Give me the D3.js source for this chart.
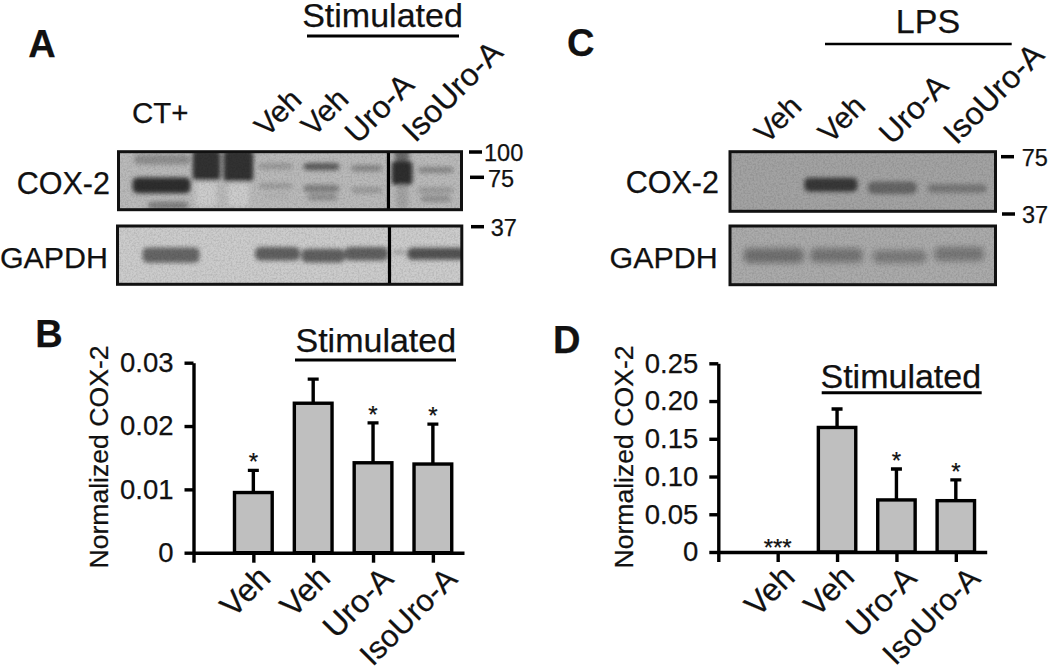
<!DOCTYPE html>
<html><head><meta charset="utf-8">
<script src="https://cdnjs.cloudflare.com/ajax/libs/d3/7.8.5/d3.min.js"></script>
<style>
html,body{margin:0;padding:0;background:#fff}
svg{display:block}
text{font-family:"Liberation Sans",Arial,sans-serif;fill:#111;stroke:#111;stroke-width:.25px}
</style></head><body>
<svg id="fig" width="1050" height="667"></svg>
<script>
// ---------- Bar chart data ----------
const groups = ["Veh","Veh","Uro-A","IsoUro-A"];
const bMeans = [0.0095,0.0236,0.0142,0.0140];
const bErrTop = [0.0130,0.0274,0.0205,0.0203];
const bStars = ["*","","*","*"];
const bTicks = [0,0.01,0.02,0.03];
const bTickLabels = ["0","0.01","0.02","0.03"];
const dMeans = [0,0.165,0.069,0.068];
const dErrTop = [0,0.1895,0.110,0.0955];
const dStars = ["***","","*","*"];
const dTicks = [0,0.05,0.10,0.15,0.20,0.25];
const dTickLabels = ["0","0.05","0.10","0.15","0.20","0.25"];
const yTitle = "Normalized COX-2";

// ---------- Blot densities: [gel % left, gel % right, gel % top, gel % bottom, density] ----------
const aCoxBackground = 0.27;
const aCoxBands = [
  [4.5,21,5,22,0.44],[8.5,20.5,86,100,0.5],[4.1,21,44.5,71.5,0.82],
  [22.5,28.5,48,95,0.2],[32,38,48,95,0.2],
  [21.6,29.7,-3,50,0.8],[30.6,39.3,-3,52,0.8],
  [40.7,50.9,19.5,30.5,0.4],[40.7,50.9,54.5,64,0.4],[42,50,72,80,0.31],
  [53.8,64.5,19.5,32,0.64],[53.8,64.5,57,70,0.5],[55,64,73,84,0.44],
  [67.7,77,23,34,0.47],[67.7,77,61,71.5,0.4],
  [80.5,84.8,-5,16,0.58],[79.6,85.7,15,58,0.82],[81,84.5,57,100,0.36],
  [87.1,97.8,26.5,36.5,0.48],[87.1,97.8,61.5,71.5,0.4],[88,97,76,86.5,0.44]
];
const aGapdhBackground = 0.2;
const aGapdhBands = [
  [7.3,23.8,37,63,0.6],[40,53,36,59,0.62],[53.5,66,39,62.5,0.62],[66,78.6,36,59,0.62],
  [79.9,84,41,49,0.36],[84.2,101,37.5,58,0.68]
];
const cCoxBackground = 0.36;
const cCoxBands = [[28,48,43.5,67,0.78],[52,70.3,50,71,0.6],[74.4,96.8,54,69,0.53]];
const cGapdhBackground = 0.33;
const cGapdhBands = [[5.2,27.7,38,63,0.56],[30.3,50,38,62,0.54],[53.8,74,41.5,63,0.52],[77,95.7,35.5,60,0.53]];

const aLaneLabels = ["Veh","Veh","Uro-A","IsoUro-A"];
const cLaneLabels = ["Veh","Veh","Uro-A","IsoUro-A"];

const svg = d3.select("#fig");
const defs = svg.append("defs");
[["blur",2.1],["blurWide",3.2]].forEach(([id,sd])=>
  defs.append("filter").attr("id",id).attr("x","-30%").attr("y","-60%").attr("width","160%").attr("height","220%")
    .append("feGaussianBlur").attr("stdDeviation",sd));
const nf = defs.append("filter").attr("id","grain").attr("x","0").attr("y","0").attr("width","100%").attr("height","100%");
nf.append("feTurbulence").attr("type","fractalNoise").attr("baseFrequency",0.55).attr("numOctaves",2).attr("seed",4);
nf.append("feColorMatrix").attr("type","matrix").attr("values","0 0 0 0 0  0 0 0 0 0  0 0 0 0 0  2.4 0 0 0 -0.9");
const gray = d3.scaleLinear().domain([0,1]).range(["#ffffff","#000000"]);
const T = (x,y,s,o={})=>{
  const t = svg.append("text").attr("x",x).attr("y",y).text(s).style("font-size",(o.size||30)+"px")
    .attr("text-anchor",o.anchor||"start").style("font-weight",o.bold?"700":"400");
  if(o.rot!==undefined){t.attr("dy",".35em").attr("transform",`rotate(${o.rot} ${x} ${y})`);}
  return t;
};
const L = (x1,y1,x2,y2,w=2.6)=>svg.append("line").attr("x1",x1).attr("y1",y1).attr("x2",x2).attr("y2",y2).attr("stroke","#000").attr("stroke-width",w);

let clipN=0;
function blot(x0,x1,y0,y1,bg,bands,sep,blurId="blur"){
  const gx=d3.scaleLinear().domain([0,100]).range([x0,x1]);
  const gy=d3.scaleLinear().domain([0,100]).range([y0,y1]);
  const id="c"+(clipN++);
  defs.append("clipPath").attr("id",id).append("rect").attr("x",x0).attr("y",y0).attr("width",x1-x0).attr("height",y1-y0);
  const g=svg.append("g").attr("clip-path",`url(#${id})`);
  g.append("rect").attr("x",x0).attr("y",y0).attr("width",x1-x0).attr("height",y1-y0).attr("fill",gray(bg));
  g.append("g").attr("filter",`url(#${blurId})`).selectAll("rect").data(bands).join("rect")
    .attr("x",d=>gx(d[0])).attr("width",d=>gx(d[1])-gx(d[0]))
    .attr("y",d=>gy(d[2])).attr("height",d=>gy(d[3])-gy(d[2]))
    .attr("rx",6).attr("ry",4).attr("fill",d=>gray(d[4]));
  g.append("rect").attr("x",x0).attr("y",y0).attr("width",x1-x0).attr("height",y1-y0)
    .attr("filter","url(#grain)").attr("opacity",0.1);
  if(sep!==undefined) L(gx(sep),y0,gx(sep),y1,3.2);
  svg.append("rect").attr("x",x0).attr("y",y0).attr("width",x1-x0).attr("height",y1-y0)
    .attr("fill","none").attr("stroke","#111").attr("stroke-width",3);
}

function barChart(o){
  const x=d3.scaleLinear().domain([0,4.52]).range([o.left,o.right]);
  const y=d3.scaleLinear().domain([0,o.max]).range([o.bottom,o.top]);
  const gg=svg.append("g");
  const cx=i=>x(i+1), bw=x(0.63)-x(0);
  gg.selectAll(".eb").data(o.errTop).join("path").attr("fill","none").attr("stroke","#000").attr("stroke-width",3.4)
    .attr("d",(d,i)=>o.means[i]===0?null:`M${cx(i)},${y(o.means[i])}V${y(d)}M${cx(i)-5.5},${y(d)}H${cx(i)+5.5}`);
  gg.selectAll(".bar").data(o.means.filter(v=>v>0).map(v=>({v,i:o.means.indexOf(v)}))).join("rect")
    .attr("x",d=>cx(d.i)-bw/2).attr("width",bw).attr("y",d=>y(d.v)).attr("height",d=>y(0)-y(d.v))
    .attr("fill","#bfbfbf").attr("stroke","#000").attr("stroke-width",3.4);
  const ya=d3.axisLeft(y).tickValues(o.ticks).tickFormat((d,i)=>o.tickLabels[i]).tickSize(9).tickPadding(11).tickSizeOuter(0);
  const yg=svg.append("g").attr("transform",`translate(${o.left},0)`).call(ya);
  const xa=d3.axisBottom(x).tickValues([0,1,2,3,4]).tickFormat("").tickSize(10).tickSizeOuter(0);
  const xg=svg.append("g").attr("transform",`translate(0,${o.bottom})`).call(xa);
  [yg,xg].forEach(g=>{g.selectAll("path,line").attr("stroke","#000").attr("stroke-width",3.4);
    g.selectAll("text").style("font-size","27.5px").style("font-family",'"Liberation Sans",Arial,sans-serif').attr("fill","#111");});
  o.stars.forEach((s,i)=>{ if(s) T(cx(i),y(o.errTop[i])+(o.errTop[i]===0?3.5:0),s,{size:24,anchor:"middle"}); });
  const labelDx=[19,19,22,26], labelDy=[27,27,28,28], labelSize=[32,32,32,31];
  o.cats.forEach((c,i)=>{
    svg.append("text").attr("text-anchor","end").style("font-size",labelSize[i]+"px")
      .attr("transform",`translate(${cx(i)+labelDx[i]},${o.bottom+labelDy[i]}) rotate(-45)`).text(c);
  });
  svg.append("text").attr("text-anchor","middle").style("font-size","26.6px").attr("fill","#222")
    .attr("transform",`translate(${o.titleX},457) rotate(-90)`).text(yTitle);
}

// ---------- Panel A ----------
T(42,57,"A",{size:38,bold:true,anchor:"middle"});
T(382.5,27,"Stimulated",{size:34,anchor:"middle"});
L(307,36,459,36,2.8);
T(132,123,"CT+",{size:29.5});
[277.7,324.5,379,452].forEach((x,i)=>T(x,[112.4,111.7,108,91][i],aLaneLabels[i],{size:[30,30,31.5,32][i],anchor:"middle",rot:-45}));
T(110,194,"COX-2",{size:30.5,anchor:"end"});
T(108,268,"GAPDH",{size:30.4,anchor:"end"});
blot(118.5,461.5,151.7,209.7,aCoxBackground,aCoxBands,78.7);
blot(117.5,461.8,226,284.3,aGapdhBackground,aGapdhBands,79);
L(469,152,482,152,3.5);T(484,161,"100",{size:23.5});
L(470,177.3,484,177.3,3.5);T(488,186.7,"75",{size:23.5});
L(471,226.7,484,226.7,3.5);T(490.7,236,"37",{size:23.5});

// ---------- Panel C ----------
T(580.7,56,"C",{size:38,bold:true,anchor:"middle"});
T(928,32.7,"LPS",{size:34,anchor:"middle"});
L(825,44,1011.7,44,2.4);
[777.5,841.3,913.3,993.3].forEach((x,i)=>T(x,[119,118.7,109,93.3][i],cLaneLabels[i],{size:[30,30,31.5,32][i],anchor:"middle",rot:-45}));
T(719,193.3,"COX-2",{size:30.5,anchor:"end"});
T(717.7,267.7,"GAPDH",{size:30.4,anchor:"end"});
blot(730,995.5,151.7,211.3,cCoxBackground,cCoxBands);
blot(730,995.5,226,284.7,cGapdhBackground,cGapdhBands,undefined,"blurWide");
L(1001,156.7,1014,156.7,3.5);T(1021.7,166,"75",{size:23.5});
L(1002,214,1015,214,3.5);T(1022,222.7,"37",{size:23.5});

// ---------- Panel B ----------
T(49,347,"B",{size:38,bold:true,anchor:"middle"});
T(375.8,351.7,"Stimulated",{size:34,anchor:"middle"});
L(295,360,456,360,3);
barChart({left:193.5,right:464,top:362.7,bottom:552.7,max:0.03,means:bMeans,errTop:bErrTop,stars:bStars,
  ticks:bTicks,tickLabels:bTickLabels,cats:groups,titleX:108});

// ---------- Panel D ----------
T(566.7,353.3,"D",{size:38,bold:true,anchor:"middle"});
T(900.8,388.3,"Stimulated",{size:34,anchor:"middle"});
L(821.7,392.7,981.7,392.7,3);
barChart({left:718.3,right:986.7,top:363.3,bottom:552,max:0.25,means:dMeans,errTop:dErrTop,stars:dStars,
  ticks:dTicks,tickLabels:dTickLabels,cats:groups,titleX:633});
</script>
</body></html>
